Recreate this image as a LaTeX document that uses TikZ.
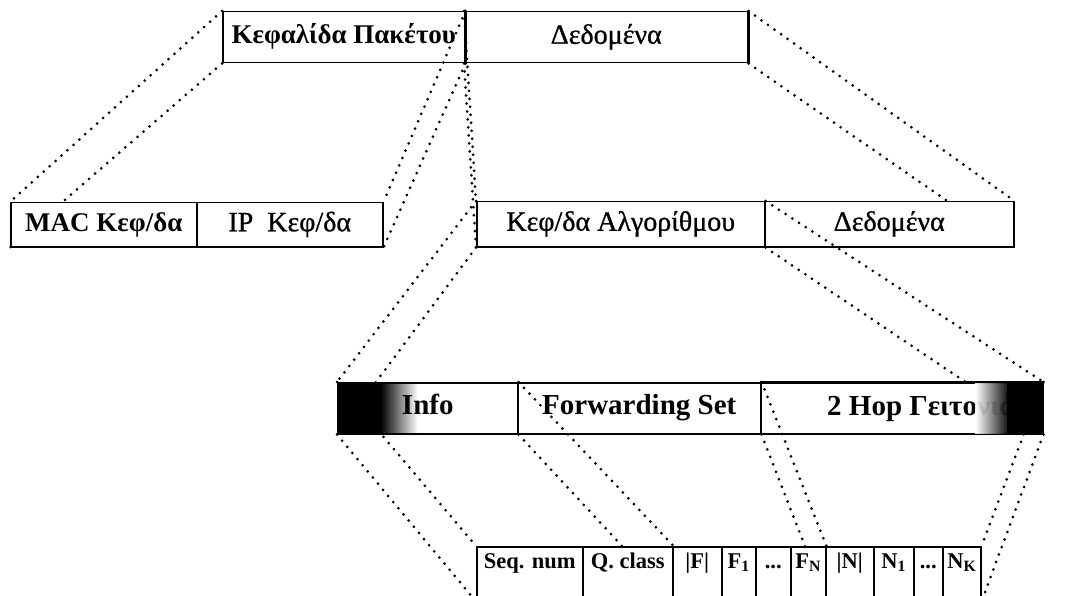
\documentclass[tikz,border=0pt]{standalone}
\usepackage{fontspec}
\setmainfont{Liberation Serif}
\newfontfamily\heavyserif[FakeBold=0.9]{Liberation Serif}
\usetikzlibrary{calc}
% paint order: each level of boxes hides the dotted projections that reach it
\pgfdeclarelayer{link1}
\pgfdeclarelayer{row2}
\pgfdeclarelayer{link2}
\pgfdeclarelayer{row3}
\pgfdeclarelayer{link3}
\pgfdeclarelayer{row4}
\pgfsetlayers{main,link1,row2,link2,row3,link3,row4}
\begin{document}
\begin{tikzpicture}[x=1pt,y=-1pt,
  cell/.style={draw=black,line width=1.5pt,fill=white,inner sep=0pt,anchor=north west},
  big/.style={font=\fontsize{28}{30}\selectfont\heavyserif,text height=19pt,text depth=6pt},
  bigb/.style={font=\fontsize{27}{30}\selectfont\bfseries,text height=19pt,text depth=6pt},
  midb/.style={font=\fontsize{29}{31}\selectfont\bfseries,text height=19pt,text depth=7pt},
  small/.style={font=\fontsize{22.5}{24}\selectfont\bfseries,text height=15pt,text depth=26pt},
  proj/.style={line width=3pt,dash pattern=on 0pt off 8pt,line cap=round},
]
\useasboundingbox (0,0) rectangle (1065,596);

% packet
\node[cell,bigb,minimum width=242,minimum height=51] (t1) at (222,11) {Κεφαλίδα Πακέτου};
\node[cell,big,minimum width=283,minimum height=51] (t2) at (464,11) {Δεδομένα};
\draw[line width=3pt] (t1.north east) -- (t1.south east);
\draw[line width=2.6pt] (t2.north east) -- (t2.south east);

% header and payload split
\begin{pgfonlayer}{row2}
\node[cell,bigb,minimum width=186,minimum height=44] (m1) at (10,202) {MAC Κεφ/δα};
\node[cell,big,minimum width=186,minimum height=44] (m2) at (196,202) {IP\ \ Κεφ/δα};
\node[cell,big,minimum width=288,minimum height=45] (a1) at (476,201) {Κεφ/δα Αλγορίθμου};
\node[cell,big,minimum width=249,minimum height=45] (a2) at (764,201) {Δεδομένα};
\end{pgfonlayer}

% algorithm header
\begin{pgfonlayer}{row3}
\node[cell,midb,minimum width=180,minimum height=51,
  path picture={
    \fill[black] (path picture bounding box.north west) rectangle ([xshift=44pt]path picture bounding box.south west);
    \shade[left color=black,right color=white] ([xshift=43pt]path picture bounding box.north west) rectangle ([xshift=80pt]path picture bounding box.south west);
  }] (r1) at (337,382) {Info};
\node[cell,midb,minimum width=243,minimum height=51] (r2) at (517,382) {Forwarding Set};
\node[cell,midb,minimum width=282,minimum height=51] (r3) at (760,382) {};
\node[midb,anchor=base west,inner sep=0pt] (hop) at (827,415.5) {2 Hop Γειτονιά};
\fill[black] ([xshift=-37pt]r3.north east) rectangle (r3.south east);
\shade[left color=white,right color=black,opacity=0.92] ([xshift=-68pt]r3.north east) rectangle ([xshift=-36pt]r3.south east);
\draw[line width=1.5pt] (r3.north west) -- (r3.north east) (r3.south west) -- (r3.south east);
\end{pgfonlayer}

% field layout
\begin{pgfonlayer}{row4}
\node[cell,small,minimum width=106,minimum height=54] (b1) at (476,546) {Seq. num};
\node[cell,small,minimum width=90,minimum height=54] (b2) at (582,546) {Q. class};
\node[cell,small,minimum width=49,minimum height=54] (b3) at (672,546) {|F|};
\node[cell,small,minimum width=34,minimum height=54] (b4) at (721,546) {F\textsubscript{1}};
\node[cell,small,minimum width=35,minimum height=54] (b5) at (755,546) {...};
\node[cell,small,minimum width=35,minimum height=54] (b6) at (790,546) {F\textsubscript{N}};
\node[cell,small,minimum width=48,minimum height=54] (b7) at (825,546) {|N|};
\node[cell,small,minimum width=40,minimum height=54] (b8) at (873,546) {N\textsubscript{1}};
\node[cell,small,minimum width=29,minimum height=54] (b9) at (913,546) {...};
\node[cell,small,minimum width=38,minimum height=54] (b10) at (942,546) {N\textsubscript{K}};
\end{pgfonlayer}

% projections
\begin{pgfonlayer}{link1}
\draw[proj] (t1.north west) -- (m1.north west);
\draw[proj] (t1.south west) -- (m1.south west);
\draw[proj] (t1.north east) -- (m2.north east);
\draw[proj] (t1.south east) -- (m2.south east);
\draw[proj] (t2.north west) -- (a1.north west);
\draw[proj] (t2.south west) -- (a1.south west);
\draw[proj] (t2.north east) -- (a2.north east);
\draw[proj] (t2.south east) -- (a2.south east);
\end{pgfonlayer}
\begin{pgfonlayer}{link2}
\draw[proj] (a1.north west) -- (r1.north west);
\draw[proj] (a1.south west) -- (r1.south west);
\draw[proj] (a1.north east) -- (r3.north east);
\draw[proj] (a1.south east) -- (r3.south east);
\end{pgfonlayer}
\begin{pgfonlayer}{link3}
\draw[proj] (r1.north west) -- (b1.north west);
\draw[proj] (r1.south west) -- (b1.south west);
\draw[proj] (r1.north east) -- (b2.north east);
\draw[proj] (r1.south east) -- (b2.south east);
\draw[proj] (r2.north east) -- (b6.north east);
\draw[proj] (r2.south east) -- (b6.south east);
\draw[proj] (r3.north east) -- (b10.north east);
\draw[proj] (r3.south east) -- (b10.south east);
\end{pgfonlayer}
\end{tikzpicture}
\end{document}
